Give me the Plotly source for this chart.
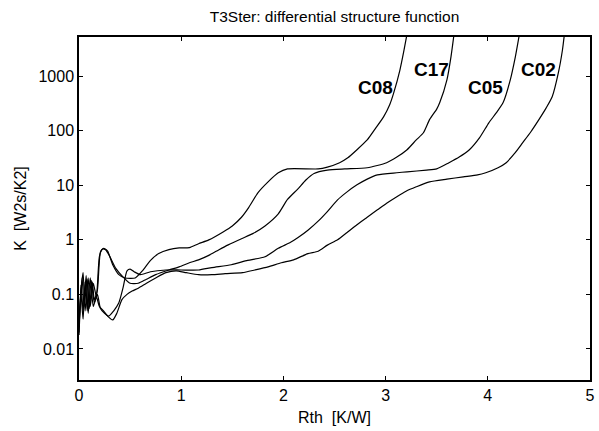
import plotly.graph_objects as go
import numpy as np

# ---- data (Rth [K/W], K [W2s/K2]) ----
c08_x = [0.00, 0.03, 0.05, 0.08, 0.10, 0.13, 0.15, 0.18, 0.21, 0.24, 0.28, 0.33, 0.39, 0.45, 0.55, 0.62,
         0.70, 0.78, 0.88, 0.98, 1.08, 1.17, 1.27, 1.41, 1.50, 1.59, 1.66, 1.75, 1.85, 1.95, 2.04, 2.34,
         2.43, 2.55, 2.63, 2.72, 2.82, 2.90, 2.98, 3.04, 3.08, 3.14, 3.18, 3.21]
c08_k = [0.025, 0.2, 0.06, 0.19, 0.055, 0.17, 0.08, 0.12, 0.6, 0.7, 0.62, 0.35, 0.23, 0.2, 0.2, 0.27,
         0.42, 0.56, 0.66, 0.71, 0.72, 0.85, 1.0, 1.4, 1.8, 2.6, 3.9, 7.3, 11.6, 17, 20, 20,
         21.6, 26, 32, 45, 68, 110, 180, 300, 500, 1300, 3000, 6000]

c17_x = [0.00, 0.02, 0.04, 0.06, 0.09, 0.11, 0.14, 0.17, 0.20, 0.23, 0.26, 0.30, 0.36, 0.43, 0.50, 0.58,
         0.66, 0.75, 0.88, 0.98, 1.08, 1.17, 1.27, 1.37, 1.46, 1.59, 1.70, 1.82, 1.95, 2.04, 2.14, 2.22,
         2.30, 2.43, 2.60, 2.82, 3.01, 3.11, 3.21, 3.30, 3.37, 3.43, 3.50, 3.53, 3.60, 3.64, 3.67]
c17_k = [0.03, 0.12, 0.25, 0.05, 0.2, 0.06, 0.16, 0.09, 0.5, 0.68, 0.66, 0.5, 0.3, 0.21, 0.16, 0.16,
         0.19, 0.23, 0.28, 0.32, 0.38, 0.43, 0.52, 0.66, 0.81, 1.05, 1.3, 1.8, 3.0, 5.5, 8.5, 12.5,
         16.5, 19, 20, 21, 26, 33, 45, 68, 92, 160, 250, 330, 860, 2300, 6000]

c05_x = [0.00, 0.02, 0.04, 0.07, 0.09, 0.12, 0.15, 0.18, 0.21, 0.25, 0.29, 0.34, 0.39, 0.43, 0.47, 0.50,
         0.54, 0.60, 0.70, 0.85, 1.00, 1.17, 1.30, 1.49, 1.65, 1.82, 1.95, 2.07, 2.14, 2.24, 2.34, 2.43,
         2.53, 2.62, 2.72, 2.82, 2.92, 3.11, 3.21, 3.40, 3.50, 3.62, 3.72, 3.82, 3.92, 4.01, 4.08, 4.15,
         4.22, 4.27, 4.31]
c05_k = [0.02, 0.15, 0.05, 0.22, 0.045, 0.18, 0.07, 0.1, 0.055, 0.045, 0.04, 0.05, 0.07, 0.13, 0.27, 0.29,
         0.26, 0.23, 0.26, 0.28, 0.28, 0.28, 0.31, 0.35, 0.42, 0.49, 0.7, 0.9, 1.09, 1.5, 2.2, 3.3,
         5.4, 7.5, 10.2, 13, 15.5, 17, 17.7, 19, 20, 26, 33, 45, 75, 140, 210, 330,
         860, 2300, 6000]

c02_x = [0.00, 0.02, 0.04, 0.06, 0.08, 0.11, 0.14, 0.17, 0.20, 0.24, 0.28, 0.33, 0.37, 0.42, 0.47, 0.52,
         0.58, 0.66, 0.75, 0.85, 0.95, 1.05, 1.17, 1.30, 1.43, 1.60, 1.72, 1.85, 1.98, 2.10, 2.24, 2.34,
         2.43, 2.53, 2.62, 2.72, 2.82, 2.92, 3.01, 3.11, 3.20, 3.30, 3.43, 3.60, 3.76, 3.90, 3.98, 4.10,
         4.18, 4.26, 4.34, 4.42, 4.50, 4.57, 4.63, 4.69, 4.73, 4.75]
c02_k = [0.018, 0.1, 0.035, 0.17, 0.05, 0.2, 0.06, 0.09, 0.06, 0.05, 0.04, 0.034, 0.045, 0.08, 0.1, 0.115,
         0.13, 0.16, 0.2, 0.25, 0.27, 0.25, 0.23, 0.23, 0.24, 0.25, 0.28, 0.32, 0.38, 0.43, 0.56, 0.62,
         0.8, 1.0, 1.35, 1.9, 2.6, 3.55, 4.7, 6.2, 7.8, 9.4, 11.6, 13, 14.3, 15.5, 17, 21,
         26, 38, 60, 95, 160, 260, 420, 1150, 3000, 6000]

series = [("C08", c08_x, c08_k), ("C17", c17_x, c17_k), ("C05", c05_x, c05_k), ("C02", c02_x, c02_k)]

label_names = ["C08", "C17", "C05", "C02"]
label_x = [2.90, 3.45, 3.98, 4.50]
label_k = [615, 1320, 615, 1320]

x_ticks = [0, 1, 2, 3, 4, 5]
y_ticks = [0.01, 0.1, 1, 10, 100, 1000]
y_ticklabels = ["0.01", "0.1", "1", "10", "100", "1000"]
y_minor = [m * 10.0 ** e for e in range(-3, 4) for m in (2, 5)]

x_range = [0, 5]
y_range_log = [-2.57, 3.72]

fig = go.Figure()
for name, xs, ks in series:
    fig.add_trace(go.Scatter(x=xs, y=ks, mode="lines", name=name, line_shape="spline",
                             line=dict(color="black", width=1.2, smoothing=0.6), showlegend=False))

for n, lx, lk in zip(label_names, label_x, label_k):
    fig.add_annotation(x=lx, y=np.log10(lk), text="<b>%s</b>" % n, showarrow=False,
                       font=dict(family="Liberation Sans, Arial", size=19, color="black"))

fig.update_layout(
    width=599, height=431,
    margin=dict(l=79, r=4, t=37, b=51),
    paper_bgcolor="white", plot_bgcolor="white",
    font=dict(family="Liberation Sans, Arial", color="black"),
    title=dict(text="T3Ster: differential structure function", x=0.5, xref="paper", xanchor="center",
               y=1 - 17 / 431, yanchor="middle", font=dict(size=15.5, color="black")),
    xaxis=dict(range=x_range, tickvals=x_ticks, ticks="inside", ticklen=4, tickcolor="black",
               showline=True, linecolor="black", linewidth=1.5, mirror="ticks", showgrid=False,
               zeroline=False, tickfont=dict(size=16),
               title=dict(text="Rth  [K/W]", font=dict(size=16), standoff=9)),
    yaxis=dict(type="log", range=y_range_log, tickvals=y_ticks, ticktext=y_ticklabels,
               ticks="inside", ticklen=4, tickcolor="black",
               showline=True, linecolor="black", linewidth=1.5, mirror="ticks", showgrid=False,
               zeroline=False, tickfont=dict(size=16),
               title=dict(text="K  [W2s/K2]", font=dict(size=16), standoff=8)),
    yaxis2=dict(type="log", range=y_range_log, overlaying="y", side="right", tickvals=y_minor,
                ticks="inside", ticklen=3, tickcolor="black", showticklabels=False,
                showgrid=False, zeroline=False, showline=False),
)

fig.write_html("out.html")
